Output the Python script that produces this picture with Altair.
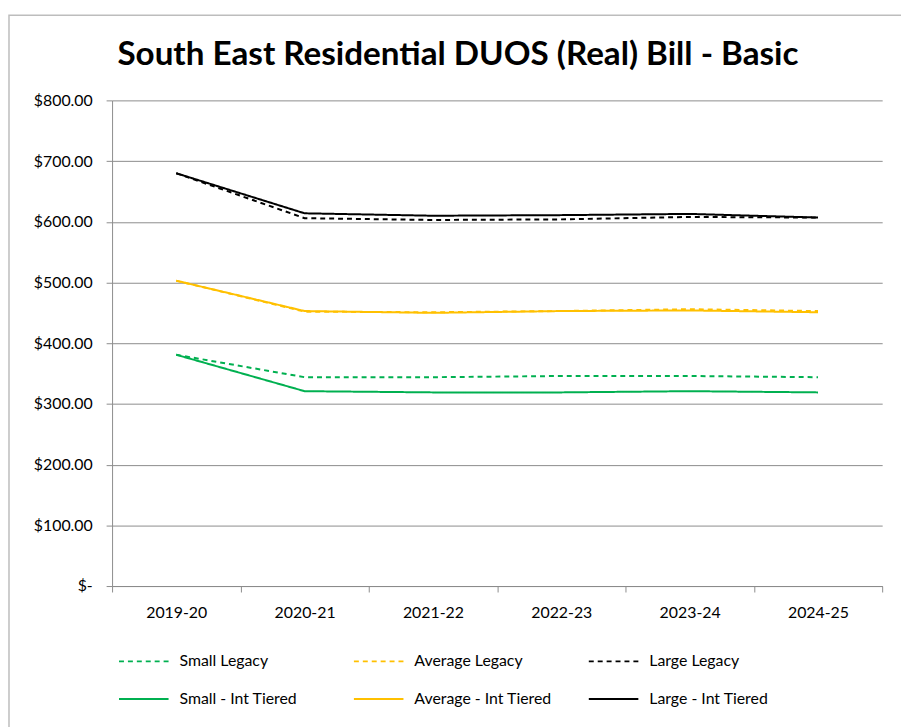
import altair as alt
import pandas as pd

years = ["2019-20", "2020-21", "2021-22", "2022-23", "2023-24", "2024-25"]
small_legacy = [381, 344, 344, 346, 346, 344]
average_legacy = [503, 452, 451, 453, 456, 453]
large_legacy = [680, 606, 603, 604, 608, 607]
small_int = [381, 321, 319, 319, 321, 319]
average_int = [503, 453, 450, 453, 454, 451]
large_int = [680, 614, 610, 611, 613, 607]

title_text = ["South East Residential DUOS (Real) Bill - Basic"]

# legend fills column by column: (Small Legacy / Small - Int Tiered), ...
series_names = ["Small Legacy", "Small - Int Tiered",
                "Average Legacy", "Average - Int Tiered",
                "Large Legacy", "Large - Int Tiered"]
series_values = [small_legacy, small_int, average_legacy,
                 average_int, large_legacy, large_int]
colors = ["#00B050", "#00B050", "#FFC000", "#FFC000", "#000000", "#000000"]
dashes = [[5, 4], [1, 0], [5, 4], [1, 0], [5, 4], [1, 0]]

rows = []
for name, vals in zip(series_names, series_values):
    for y, v in zip(years, vals):
        rows.append({"year": y, "value": v, "series": name})
df = pd.DataFrame(rows)

FONT = "Lato"
W, H = 777, 490

lines = alt.Chart(df).mark_line(strokeWidth=2).encode(
    x=alt.X("year:O", sort=years, bandPosition=0.5,
            scale=alt.Scale(type="band", paddingInner=0, paddingOuter=0),
            axis=alt.Axis(title=None, tickBand="extent", grid=False,
                          domainColor="#8c8c8c", tickColor="#8c8c8c", tickSize=6,
                          labelAngle=0, labelPadding=13, labelFontSize=16,
                          labelFont=FONT, labelColor="#000")),
    y=alt.Y("value:Q", scale=alt.Scale(domain=[0, 800], nice=False),
            axis=alt.Axis(title=None, values=list(range(0, 801, 100)),
                          labelExpr="datum.value == 0 ? '$-\u2007' : '$' + format(datum.value, ',.2f')",
                          grid=True, gridColor="#8c8c8c", gridWidth=1,
                          domainColor="#8c8c8c", tickColor="#8c8c8c", tickSize=6,
                          labelPadding=14, labelFontSize=16, labelFont=FONT,
                          labelColor="#000")),
    color=alt.Color("series:N", sort=series_names,
                    scale=alt.Scale(domain=series_names, range=colors),
                    legend=alt.Legend(title=None)),
    strokeDash=alt.StrokeDash("series:N", sort=series_names,
                              scale=alt.Scale(domain=series_names, range=dashes),
                              legend=alt.Legend(title=None)),
)

frame = alt.Chart(pd.DataFrame({"a": [0]})).mark_rect(
    fill=None, stroke="#bdbdbd", strokeWidth=1.5
).encode(
    x=alt.value(-104), x2=alt.value(W + 40),
    y=alt.value(-86), y2=alt.value(H + 200),
)

title = alt.Chart(pd.DataFrame({"t": title_text})).mark_text(
    font=FONT, fontSize=33.5, fontWeight="bold", color="#000",
    align="center", baseline="alphabetic",
).encode(
    text="t:N", x=alt.value(349), y=alt.value(-36),
)

chart = alt.layer(frame, lines, title).properties(
    width=W, height=H,
    autosize=alt.AutoSizeParams(type="none"),
    padding={"left": 105, "top": 90, "right": 19, "bottom": 139},
).configure_view(stroke=None).configure_legend(
    orient="none", legendX=6, legendY=540, columns=3, gridAlign="all",
    symbolType="stroke", symbolSize=2500, symbolStrokeWidth=2,
    labelFont=FONT, labelFontSize=16, labelColor="#000", labelOffset=10,
    columnPadding=33, rowPadding=4, labelLimit=300,
)

chart.save("out.html", embed_options={"renderer": "svg", "actions": False})
